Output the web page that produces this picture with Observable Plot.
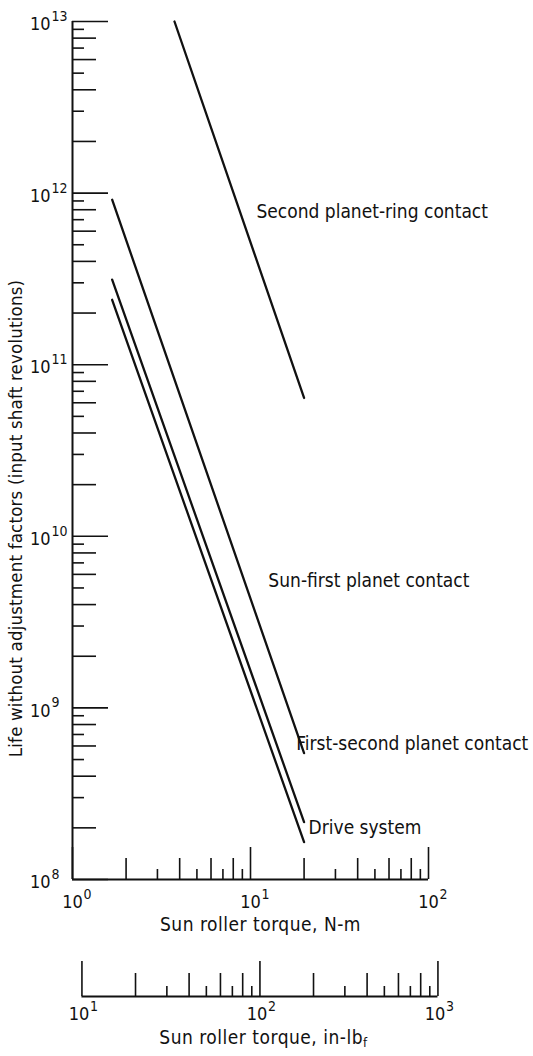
<!DOCTYPE html>
<html><head><meta charset="utf-8">
<script src="https://cdn.jsdelivr.net/npm/d3@7"></script>
<script src="https://cdn.jsdelivr.net/npm/@observablehq/plot@0.6"></script>
<style>
body{margin:0;background:#fff;}
#chart{width:533px;}
#chart svg{display:block;}
</style></head><body><div id="chart"></div>
<script>
// ---- data ----
const series = ["Second planet-ring contact", "Sun-first planet contact", "First-second planet contact", "Drive system"];
const torqueNm = [[3.74, 20], [1.67, 20], [1.67, 20], [1.67, 20]];
const lifeRevs = [[1.0e13, 6.4e10], [9.15e11, 5.45e8], [3.13e11, 2.16e8], [2.39e11, 1.65e8]];
const labelTorque = [10.8, 12.6, 18.1, 21.2];
const labelLife = [7.8e11, 5.5e9, 6.2e8, 2.0e8];
const yDecades = [8, 9, 10, 11, 12, 13];
const xDecades = [0, 1, 2];
const lbfDecades = [1, 2, 3];
const NM_TO_INLBF = 8.8507;
const xTitle = "Sun roller torque, N-m";
const x2Title = "Sun roller torque, in-lb";
const yTitle = "Life without adjustment factors (input shaft revolutions)";

// ---- derived tables ----
const rows = [];
series.forEach((s, i) => torqueNm[i].forEach((t, j) => rows.push({series: s, T: t, N: lifeRevs[i][j]})));
const labels = series.map((s, i) => ({text: s, T: labelTorque[i], N: labelLife[i]}));
function logTicks(lo, hi) {
  const out = [];
  for (let k = lo; k < hi; k++) for (let m = 1; m <= 9; m++)
    out.push({v: m * Math.pow(10, k), kind: m === 1 ? "major" : (m % 2 === 0 ? "long" : "short")});
  out.push({v: Math.pow(10, hi), kind: "major"});
  return out;
}
const yTicks = logTicks(yDecades[0], yDecades[yDecades.length - 1]);
const xTicks = logTicks(xDecades[0], xDecades[xDecades.length - 1]);
const lbfTicks = logTicks(lbfDecades[0], lbfDecades[lbfDecades.length - 1]);

// ---- style ----
const FONT = "'DejaVu Sans Condensed', 'Liberation Sans Narrow', sans-serif";
const W = 533, H1 = 945, mT = 21, mL = 72, mR = 105, mB = 66;
const frameH = H1 - mT - mB, frameW = W - mL - mR;
const yLen = {major: 36, long: 24, short: 12};
const xLen = {major: 32, long: 21, short: 10};
const kinds = ["major", "long", "short"];
const ink = "#111";

const main = Plot.plot({
  width: W, height: H1, marginTop: mT, marginLeft: mL, marginRight: mR, marginBottom: mB,
  x: {type: "log", domain: [1, 100], axis: null},
  y: {type: "log", domain: [1e8, 1e13], axis: null},
  style: {fontFamily: FONT, background: "white", color: ink},
  marks: [
    ...kinds.map(k => Plot.ruleY(yTicks.filter(d => d.kind === k), {y: "v", insetRight: frameW - yLen[k], stroke: ink, strokeWidth: 1.6})),
    ...kinds.map(k => Plot.ruleX(xTicks.filter(d => d.kind === k), {x: "v", insetTop: frameH - xLen[k], stroke: ink, strokeWidth: 1.6})),
    Plot.ruleX([1], {stroke: ink, strokeWidth: 2}),
    Plot.ruleY([1e8], {stroke: ink, strokeWidth: 2}),
    Plot.line(rows, {x: "T", y: "N", z: "series", stroke: ink, strokeWidth: 2.3}),
    Plot.text(labels, {x: "T", y: "N", text: "text", textAnchor: "start", fontSize: 19, fill: ink}),
    // y tick labels
    Plot.text(yDecades, {x: 1, y: d => Math.pow(10, d), text: () => "10", textAnchor: "end", dx: -22, dy: 3, fontSize: 18, fill: ink}),
    Plot.text(yDecades, {x: 1, y: d => Math.pow(10, d), text: d => String(d), textAnchor: "start", dx: -21, dy: -5, fontSize: 14, fill: ink}),
    // x tick labels
    Plot.text(xDecades, {x: d => Math.pow(10, d), y: 1e8, text: () => "10", dy: 23, fontSize: 18, fill: ink}),
    Plot.text(xDecades, {x: d => Math.pow(10, d), y: 1e8, text: d => String(d), textAnchor: "start", dx: 11, dy: 15, fontSize: 14, fill: ink}),
    Plot.text([xTitle], {frameAnchor: "bottom", dx: 10, dy: 51, fontSize: 19, fill: ink}),
    Plot.text([yTitle], {frameAnchor: "left", textAnchor: "middle", rotate: -90, dx: -56, dy: 68, fontSize: 18.5, fill: ink})
  ]
});

const H2 = 111, mB2 = 60, frameH2 = H2 - mB2;
const x2Len = {major: 35, long: 23, short: 10};
const second = Plot.plot({
  width: W, height: H2, marginTop: 0, marginLeft: mL, marginRight: mR, marginBottom: mB2,
  x: {type: "log", domain: [NM_TO_INLBF * 1, NM_TO_INLBF * 100], axis: null},
  y: {domain: [0, 1], axis: null},
  style: {fontFamily: FONT, background: "white", color: ink},
  marks: [
    ...kinds.map(k => Plot.ruleX(lbfTicks.filter(d => d.kind === k), {x: "v", insetTop: frameH2 - x2Len[k], stroke: ink, strokeWidth: 1.6})),
    Plot.ruleY([0], {x1: Math.pow(10, lbfDecades[0]), x2: Math.pow(10, lbfDecades[lbfDecades.length - 1]), stroke: ink, strokeWidth: 2}),
    Plot.text(lbfDecades, {x: d => Math.pow(10, d), y: 0, text: () => "10", dx: -3, dy: 18, fontSize: 18, fill: ink}),
    Plot.text(lbfDecades, {x: d => Math.pow(10, d), y: 0, text: d => String(d), textAnchor: "start", dx: 8, dy: 10, fontSize: 14, fill: ink}),
    Plot.text([x2Title], {frameAnchor: "bottom", dx: 13, dy: 47, fontSize: 19, fill: ink})
  ]
});

d3.select(second).selectAll("text").filter(function() { return this.textContent === x2Title; })
  .attr("letter-spacing", "0.5px")
  .append("tspan").attr("dy", "0.3em").attr("font-size", 13).text("f");
d3.select(main).selectAll("text").filter(function() { return this.textContent === xTitle; })
  .attr("letter-spacing", "0.5px");
d3.select(main).selectAll("text").filter(function() { return this.textContent === yTitle; })
  .attr("letter-spacing", "0.2px");

document.getElementById("chart").append(main, second);
</script>
</body></html>
